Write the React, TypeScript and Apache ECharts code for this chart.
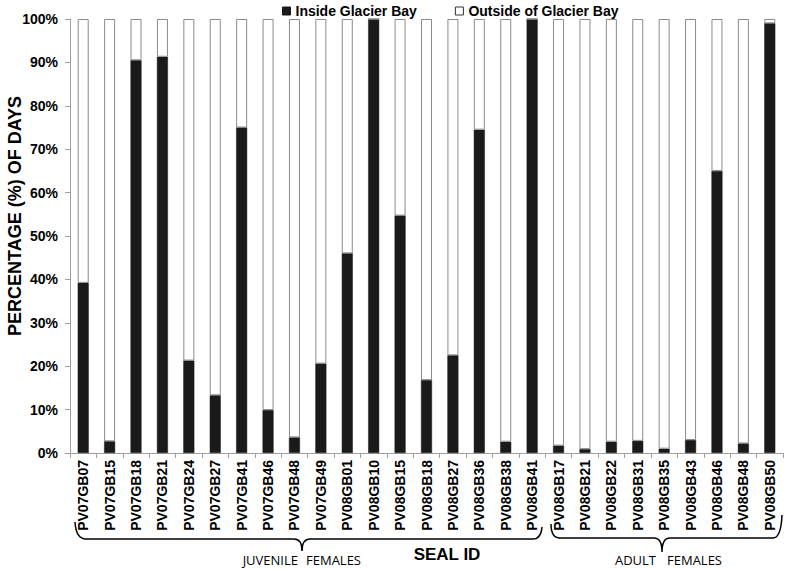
import React, { useEffect, useRef } from "react";
import * as echarts from "echarts";

const sealIds = [
  "PV07GB07", "PV07GB15", "PV07GB18", "PV07GB21", "PV07GB24", "PV07GB27", "PV07GB41", "PV07GB46", "PV07GB48",
  "PV07GB49", "PV08GB01", "PV08GB10", "PV08GB15", "PV08GB18", "PV08GB27", "PV08GB36", "PV08GB38", "PV08GB41",
  "PV08GB17", "PV08GB21", "PV08GB22", "PV08GB31", "PV08GB35", "PV08GB43", "PV08GB46", "PV08GB48", "PV08GB50",
];

const insidePct = [
  39.2, 2.7, 90.5, 91.3, 21.3, 13.3, 75.0, 9.9, 3.6,
  20.6, 46.0, 100, 54.7, 16.8, 22.5, 74.5, 2.6, 100,
  1.7, 0.9, 2.6, 2.8, 1.0, 3.0, 65.0, 2.2, 99.0,
];

const outsidePct = insidePct.map((v) => +(100 - v).toFixed(1));

const seriesNames = ["Inside Glacier Bay", "Outside of Glacier Bay"];

echarts.graphic.registerShape(
  "braceJuv",
  echarts.graphic.extendPath(
    "M75,522 Q76,539 86,539 L294,539 Q302,539 302,551 Q302,539 310,539 L533,539 Q541,539 542,527",
    {}
  )
);
echarts.graphic.registerShape(
  "braceAdult",
  echarts.graphic.extendPath(
    "M551,524 Q551,538 560,538 L654,538 Q662,538 662,552 Q662,538 670,538 L773,538 Q781,538 782,515",
    {}
  )
);

export default function App() {
  const ref = useRef<HTMLDivElement>(null);
  useEffect(() => {
    if (!ref.current) return;
    const chart = echarts.init(ref.current, null, { renderer: "svg" });
    const fontFamily = "'Liberation Sans', Arial, sans-serif";
    const calibriLike = "'Open Sans', sans-serif";
    chart.setOption({
      animation: false,
      backgroundColor: "#ffffff",
      textStyle: { fontFamily },
      legend: {
        left: 277,
        top: -1,
        itemWidth: 8,
        itemHeight: 8,
        itemGap: 38,
        icon: "rect",
        textStyle: { fontFamily, fontWeight: "bold", fontSize: 14, color: "#000" },
        data: [
          { name: seriesNames[0], itemStyle: { color: "#1a1a1a", borderColor: "#1a1a1a", borderWidth: 1 } },
          { name: seriesNames[1], itemStyle: { color: "#ffffff", borderColor: "#333", borderWidth: 1 } },
        ],
      },
      grid: { left: 70, right: 5, top: 19, bottom: 116, containLabel: false },
      xAxis: {
        type: "category",
        data: sealIds,
        axisLine: { lineStyle: { color: "#a0a0a0", width: 1 } },
        axisTick: { show: true, length: 5, lineStyle: { color: "#a0a0a0" } },
        axisLabel: {
          rotate: 90,
          interval: 0,
          margin: 7,
          fontFamily,
          fontWeight: "bold",
          fontSize: 14,
          color: "#000",
        },
      },
      yAxis: {
        type: "value",
        min: 0,
        max: 100,
        interval: 10,
        splitLine: { show: false },
        axisLine: { show: true, lineStyle: { color: "#a0a0a0", width: 1 } },
        axisTick: { show: true, length: 5, lineStyle: { color: "#a0a0a0" } },
        axisLabel: {
          formatter: "{value}%",
          margin: 12,
          fontFamily,
          fontWeight: "bold",
          fontSize: 14,
          color: "#000",
        },
      },
      series: [
        {
          name: seriesNames[0],
          type: "bar",
          stack: "total",
          barWidth: 11,
          data: insidePct,
          itemStyle: { color: "#1a1a1a", borderColor: "#1a1a1a", borderWidth: 0.5 },
        },
        {
          name: seriesNames[1],
          type: "bar",
          stack: "total",
          barWidth: 11,
          data: outsidePct,
          itemStyle: { color: "#ffffff", borderColor: "#8a8a8a", borderWidth: 1 },
        },
      ],
      graphic: [
        {
          type: "text",
          x: 15,
          y: 216,
          rotation: Math.PI / 2,
          style: {
            text: "PERCENTAGE (%) OF DAYS",
            fontFamily,
            fontWeight: "bold",
            fontSize: 18,
            fill: "#000",
            align: "center",
            verticalAlign: "middle",
          },
        },
        { type: "braceJuv", x: 0, y: 0, style: { fill: "none", stroke: "#000", lineWidth: 1.5 } },
        { type: "braceAdult", x: 0, y: 0, style: { fill: "none", stroke: "#000", lineWidth: 1.5 } },
        {
          type: "text",
          x: 298,
          y: 560,
          style: { text: "JUVENILE", fontFamily: calibriLike, fontSize: 13, fill: "#000", align: "right", verticalAlign: "middle" },
        },
        {
          type: "text",
          x: 306,
          y: 560,
          style: { text: "FEMALES", fontFamily: calibriLike, fontSize: 13, fill: "#000", align: "left", verticalAlign: "middle" },
        },
        {
          type: "text",
          x: 447,
          y: 554,
          style: { text: "SEAL ID", fontFamily, fontWeight: "bold", fontSize: 17, fill: "#000", align: "center", verticalAlign: "middle" },
        },
        {
          type: "text",
          x: 656,
          y: 560,
          style: { text: "ADULT", fontFamily: calibriLike, fontSize: 13, fill: "#000", align: "right", verticalAlign: "middle" },
        },
        {
          type: "text",
          x: 667,
          y: 560,
          style: { text: "FEMALES", fontFamily: calibriLike, fontSize: 13, fill: "#000", align: "left", verticalAlign: "middle" },
        },
      ],
    });
    return () => chart.dispose();
  }, []);
  return (
    <div
      ref={ref}
      style={{ position: "absolute", left: 0, top: 0, width: 788, height: 569 }}
    />
  );
}
